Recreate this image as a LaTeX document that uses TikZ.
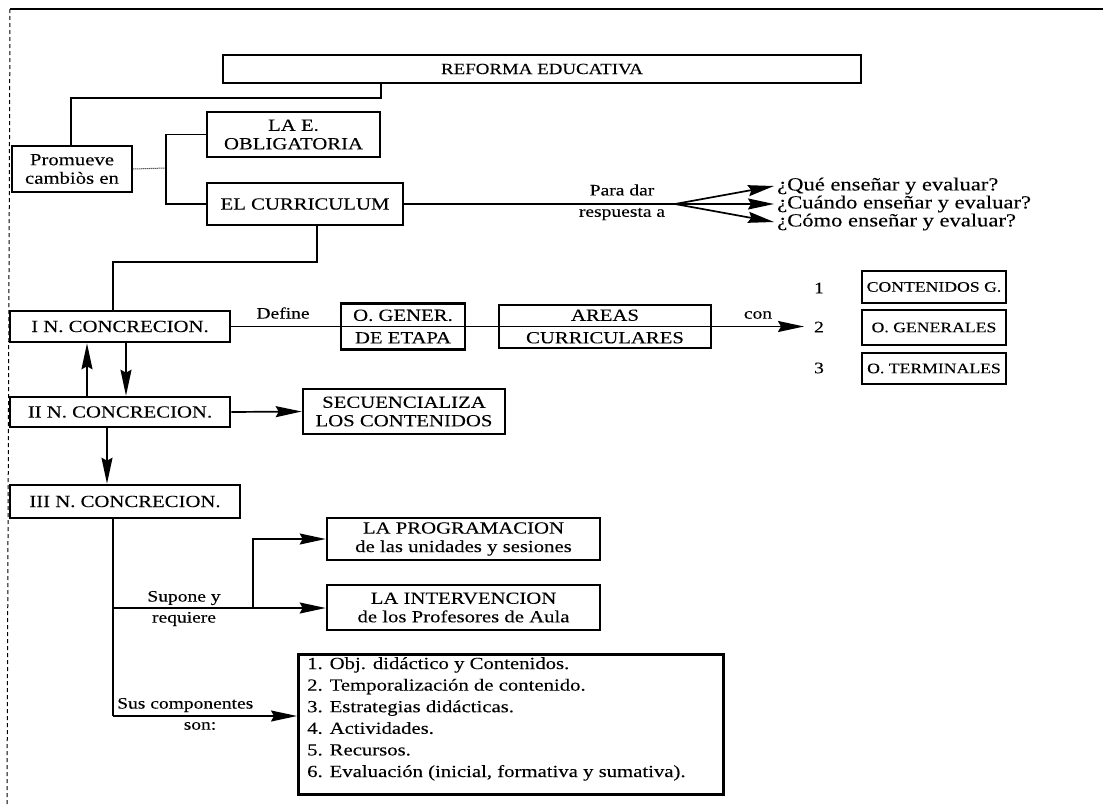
\documentclass[tikz,border=0pt]{standalone}
\usepackage{fontspec}
\setmainfont{Liberation Serif}[FakeStretch=1.22, FakeBold=0.15]
\usetikzlibrary{arrows.meta,calc}
\tikzset{
  box/.style={draw, line width=2.6pt, inner sep=0pt, align=center, font=\fontsize{17}{18.5}\selectfont},
  sbox/.style={box, font=\fontsize{14.5}{16}\selectfont},
  conn/.style={line width=1.7pt},
  arr/.style={line width=1.7pt, -{Stealth[length=26pt,width=11pt,inset=3pt]}},
  lbl/.style={inner sep=0pt, font=\fontsize{16}{18}\selectfont},
  qtxt/.style={inner sep=0pt, anchor=west, font=\fontsize{18.5}{18}\selectfont},
}
\begin{document}
\begin{tikzpicture}[x=1pt,y=-1pt]
\useasboundingbox (0,0) rectangle (1103,806);
% scan frame
\coordinate (fr1) at (10,9);
\coordinate (fr2) at (1103,9);
\coordinate (fr3) at (7,806);
\draw[line width=1.2pt] (fr1) -- (fr2);
\draw[line width=1pt, dash pattern=on 4pt off 3pt] (fr1) -- (fr3);

% boxes
\node[box, minimum width=638, minimum height=28, font=\fontsize{15.5}{17}\selectfont] (ref) at (542,69) {REFORMA EDUCATIVA};
\node[box, minimum width=120, minimum height=46] (prom) at (72,169) {Promueve\\cambiòs en};
\node[box, minimum width=173, minimum height=45] (lae) at (293.5,134.5) {LA E.\\OBLIGATORIA};
\node[box, minimum width=196, minimum height=42] (curr) at (305,204) {EL CURRICULUM};
\node[box, minimum width=220, minimum height=31] (in1) at (120,326.5) {I N. CONCRECION.};
\node[box, minimum width=124, minimum height=46] (ogen) at (403,326.5) {O. GENER.\\[4pt]DE ETAPA};
\node[box, minimum width=212, minimum height=43] (areas) at (605,326.5) {AREAS\\[4pt]CURRICULARES};
\node[sbox, minimum width=144, minimum height=32] (cont) at (934,287) {CONTENIDOS G.};
\node[sbox, minimum width=144, minimum height=35] (ogr) at (934,327.5) {O. GENERALES};
\node[sbox, minimum width=144, minimum height=31] (oter) at (934,368.5) {O. TERMINALES};
\node[box, minimum width=220, minimum height=30] (in2) at (120,412) {II N. CONCRECION.};
\node[box, minimum width=202, minimum height=45] (sec) at (404,411.5) {SECUENCIALIZA\\LOS CONTENIDOS};
\node[box, minimum width=230, minimum height=33] (in3) at (125,501.5) {III N. CONCRECION.};
\node[box, minimum width=273, minimum height=42] (prog) at (463.5,539) {LA PROGRAMACION\\de las unidades y sesiones};
\node[box, minimum width=273, minimum height=45] (interv) at (463.5,607.5) {LA INTERVENCION\\de los Profesores de Aula};
\node[box, minimum width=425, minimum height=140, anchor=north west] (comp) at (297,653) {};
\node[anchor=north west, inner sep=0pt, align=left, font=\fontsize{17}{21.6}\selectfont] (comptxt) at (307,657) {%
1. Obj. didáctico y Contenidos.\\
2. Temporalización de contenido.\\
3. Estrategias didácticas.\\
4. Actividades.\\
5. Recursos.\\
6. Evaluación (inicial, formativa y sumativa).};

% numbers
\node[lbl] (n1) at (819,288) {1};
\node[lbl] (n2) at (819,327) {2};
\node[lbl] (n3) at (819,368) {3};

% questions
\coordinate (fork) at (675,204);
\coordinate (qa) at (774,186);
\coordinate (qb) at (774,204);
\coordinate (qc) at (774,222);
\node[qtxt] (q1) at (777,186) {¿Qué enseñar y evaluar?};
\node[qtxt] (q2) at (777,204) {¿Cuándo enseñar y evaluar?};
\node[qtxt] (q3) at (777,222) {¿Cómo enseñar y evaluar?};

% connectors top
\coordinate (r1) at (381,98);
\coordinate (r2) at (71,98);
\draw[conn] (ref.south -| r1) -- (r1) -- (r2) -- (r2 |- prom.north);
\coordinate (br) at (166,168);
\draw[line width=1pt, densely dotted] (prom.east) -- (br);
\draw[conn] (lae.west) -| (br) |- (curr.west);
\draw[conn] (curr.east) -- (fork);
\draw[arr] (fork) -- (qa);
\draw[arr] (fork) -- (qb);
\draw[arr] (fork) -- (qc);
\node[lbl] (pd1) at (622,190) {Para dar};
\node[lbl] (pd2) at (622,214) {respuesta a};

\coordinate (c1) at (317,262);
\coordinate (c2) at (113,262);
\draw[conn] (curr.south -| c1) -- (c1) -- (c2) -- (c2 |- in1.north);

% level I line
\coordinate (tipcon) at (804,326.5);
\draw[arr] (in1.east) -- (tipcon);
\node[lbl] (def) at (283,313) {Define};
\node[lbl] (con) at (758,315) {con};

% up / down arrows
\coordinate (ua) at (87,0);
\coordinate (da) at (126,0);
\draw[arr] (in2.north -| ua) -- (in1.south -| ua);
\draw[arr] (in1.south -| da) -- (in2.north -| da);
\draw[arr] (in2.east) -- (sec.west);
\coordinate (dc) at (107,0);
\draw[arr] (in2.south -| dc) -- (in3.north -| dc);

% level III
\coordinate (v3) at (113,716);
\coordinate (sp) at (113,608);
\coordinate (spb) at (253,608);
\draw[conn] (in3.south -| v3) -- (v3);
\draw[arr] (sp) -- (sp -| interv.west);
\draw[arr] (spb) |- (prog.west);
\node[lbl] (sup1) at (184,598) {Supone y};
\node[lbl] (sup2) at (184,619) {requiere};
\draw[arr] (v3) -- (v3 -| comp.west);
\node[lbl, anchor=west] (sc1) at (117,705) {Sus componentes};
\node[lbl] (sc2) at (200,726) {son:};
\end{tikzpicture}
\end{document}
